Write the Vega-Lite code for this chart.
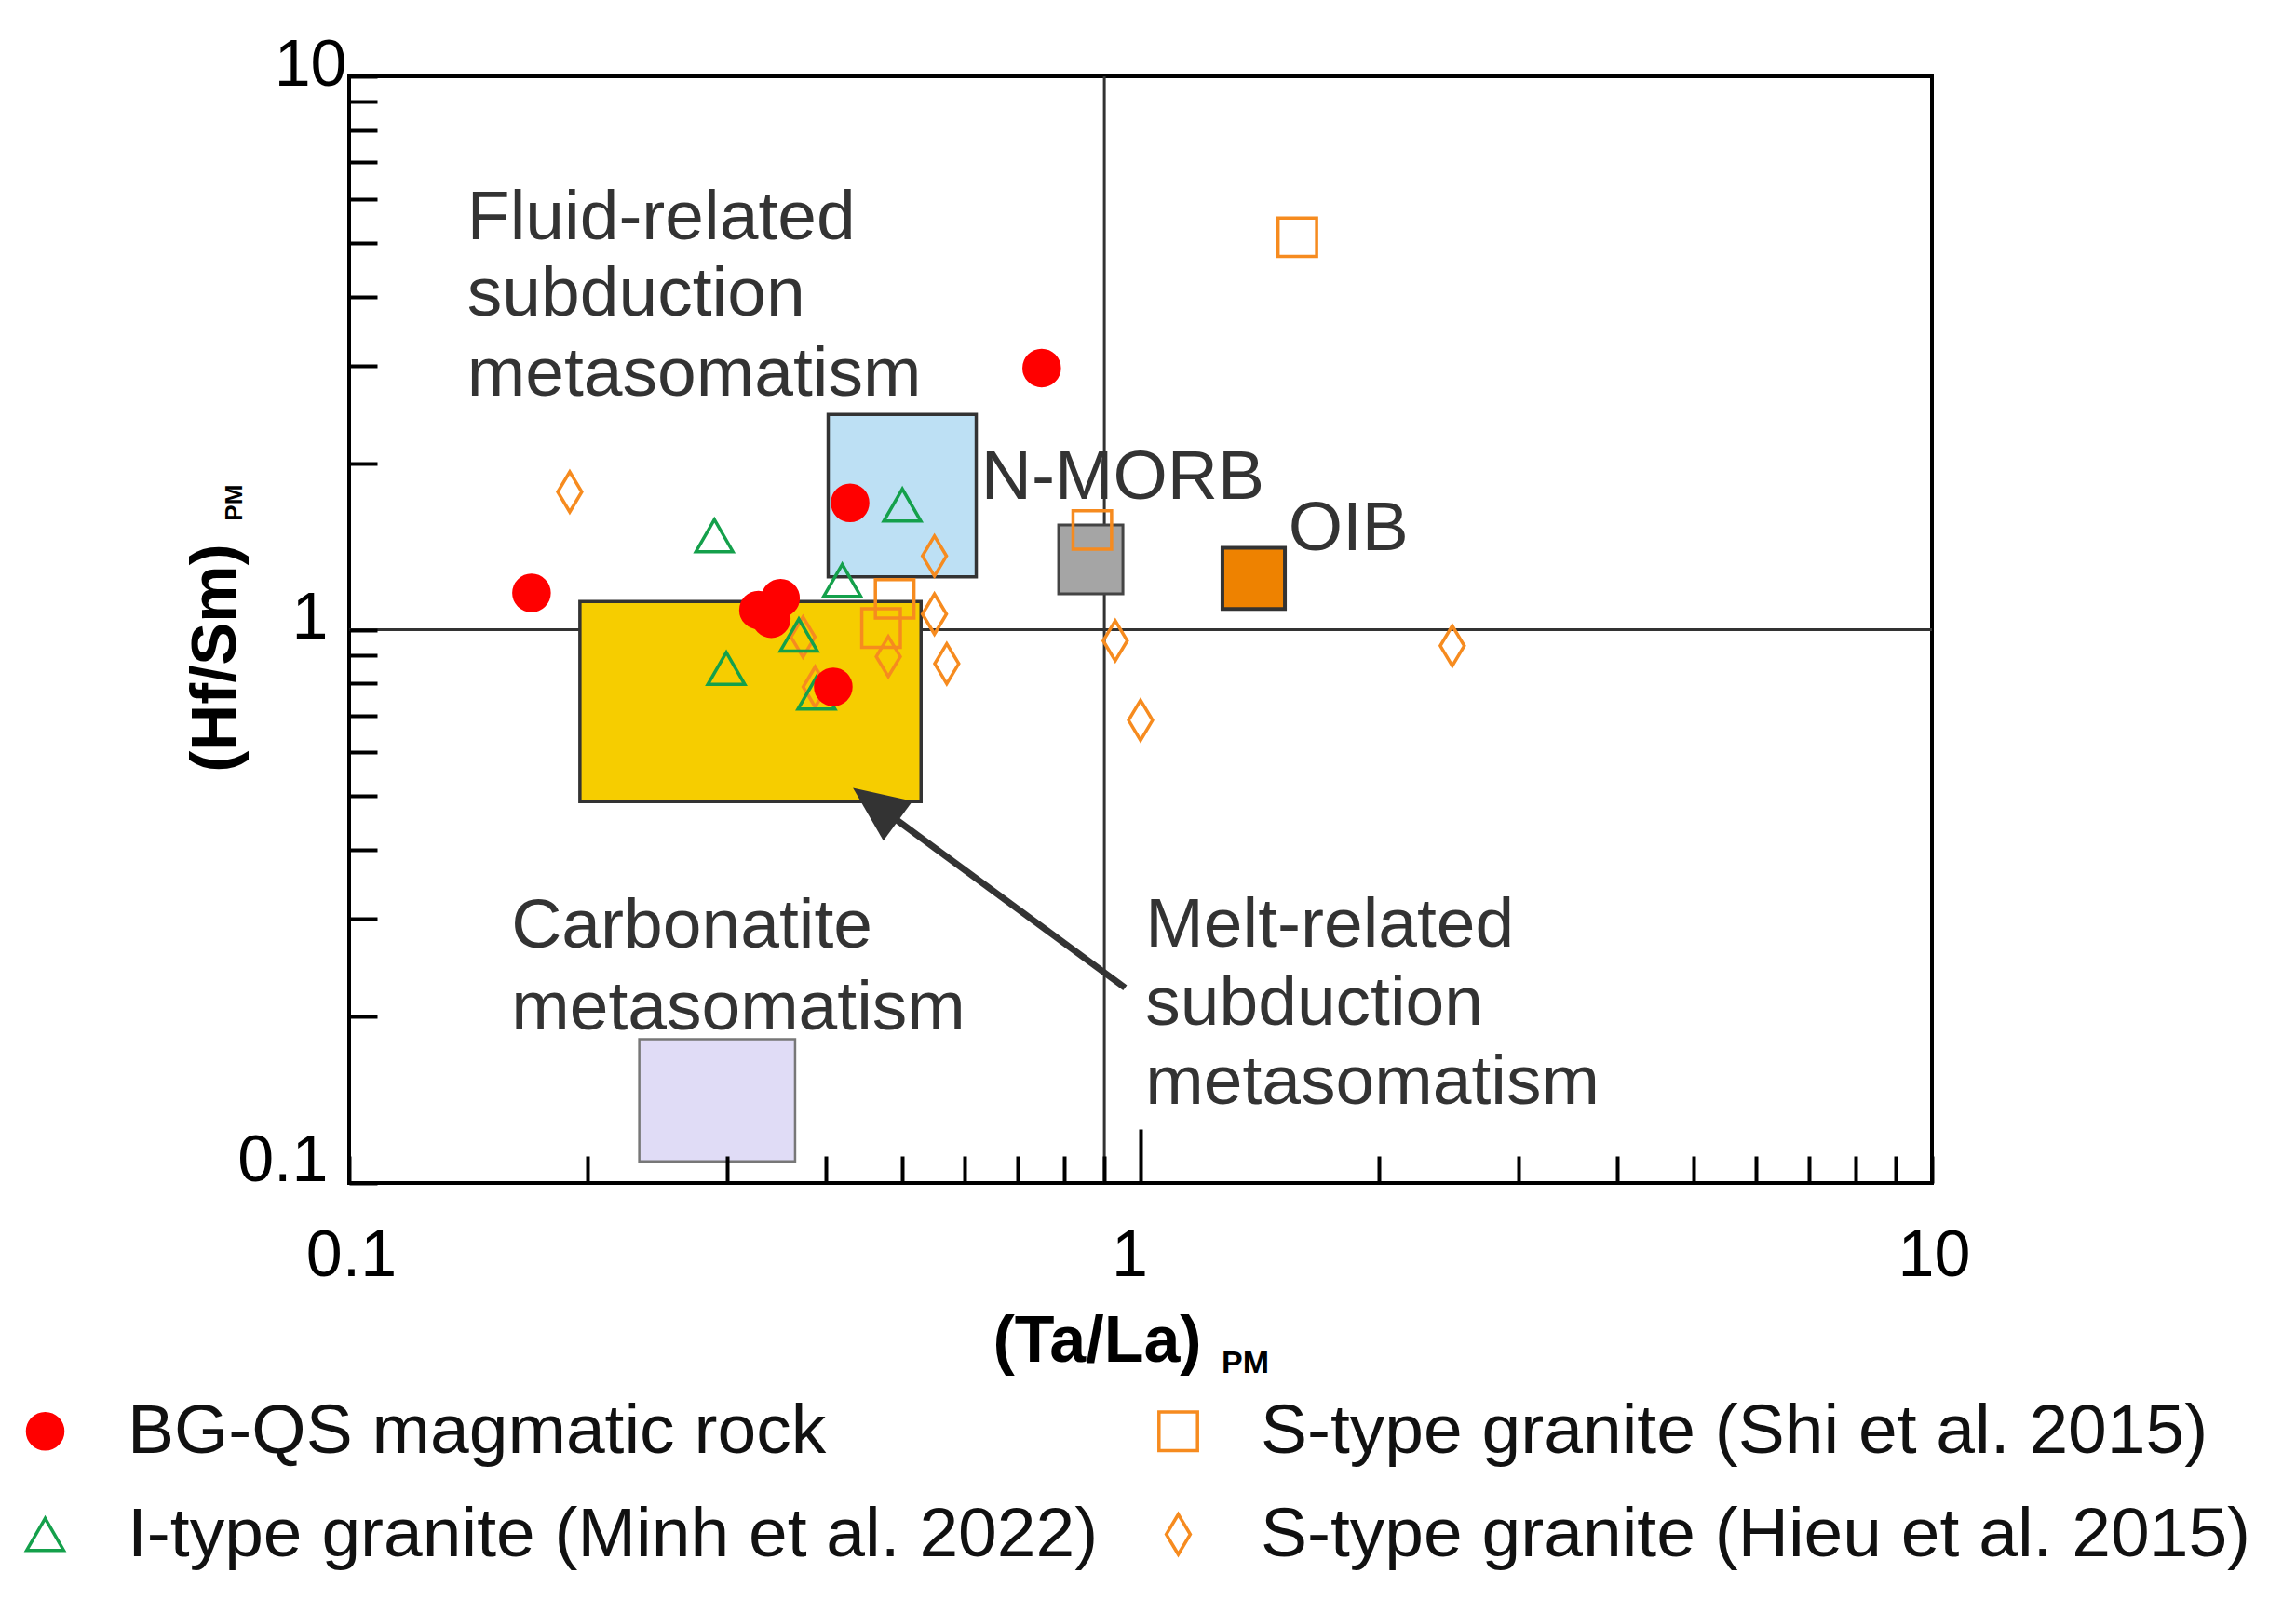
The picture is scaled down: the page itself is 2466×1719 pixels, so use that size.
{
  "$schema": "https://vega.github.io/schema/vega-lite/v6.json",
  "width": 1700,
  "height": 1189,
  "autosize": {"type": "none"},
  "padding": {"left": 375, "top": 82, "right": 391, "bottom": 448},
  "background": "#ffffff",
  "config": {
    "view": {"stroke": "#000000", "strokeWidth": 4},
    "legend": {
      "orient": "none",
      "legendX": -364,
      "legendY": 1418,
      "columns": 2,
      "labelFont": "Liberation Sans",
      "labelFontSize": 75,
      "labelColor": "#111111",
      "labelLimit": 2000,
      "labelOffset": 51,
      "columnPadding": 48,
      "rowPadding": 35,
      "symbolStrokeWidth": 3.5,
      "symbolOpacity": 1
    }
  },
  "datasets": {
    "points": [
      {"x": 0.190, "y": 1.774, "group": "S-type granite (Hieu et al. 2015)"},
      {"x": 0.549, "y": 1.359, "group": "S-type granite (Hieu et al. 2015)"},
      {"x": 0.549, "y": 1.067, "group": "S-type granite (Hieu et al. 2015)"},
      {"x": 0.569, "y": 0.868, "group": "S-type granite (Hieu et al. 2015)"},
      {"x": 0.480, "y": 0.894, "group": "S-type granite (Hieu et al. 2015)"},
      {"x": 0.929, "y": 0.955, "group": "S-type granite (Hieu et al. 2015)"},
      {"x": 1.000, "y": 0.686, "group": "S-type granite (Hieu et al. 2015)"},
      {"x": 2.477, "y": 0.935, "group": "S-type granite (Hieu et al. 2015)"},
      {"x": 0.3745, "y": 0.970, "group": "S-type granite (Hieu et al. 2015)"},
      {"x": 0.388, "y": 0.788, "group": "S-type granite (Hieu et al. 2015)"},
      {"x": 1.578, "y": 5.12, "group": "S-type granite (Shi et al. 2015)"},
      {"x": 0.869, "y": 1.514, "group": "S-type granite (Shi et al. 2015)"},
      {"x": 0.489, "y": 1.137, "group": "S-type granite (Shi et al. 2015)"},
      {"x": 0.470, "y": 1.007, "group": "S-type granite (Shi et al. 2015)"},
      {"x": 0.2894, "y": 1.479, "group": "I-type granite (Minh et al. 2022)"},
      {"x": 0.500, "y": 1.680, "group": "I-type granite (Minh et al. 2022)"},
      {"x": 0.4198, "y": 1.228, "group": "I-type granite (Minh et al. 2022)"},
      {"x": 0.370, "y": 0.978, "group": "I-type granite (Minh et al. 2022)"},
      {"x": 0.2996, "y": 0.851, "group": "I-type granite (Minh et al. 2022)"},
      {"x": 0.3895, "y": 0.768, "group": "I-type granite (Minh et al. 2022)"},
      {"x": 0.170, "y": 1.165, "group": "BG-QS magmatic rock"},
      {"x": 0.750, "y": 2.97, "group": "BG-QS magmatic rock"},
      {"x": 0.4295, "y": 1.695, "group": "BG-QS magmatic rock"},
      {"x": 0.329, "y": 1.085, "group": "BG-QS magmatic rock"},
      {"x": 0.3415, "y": 1.047, "group": "BG-QS magmatic rock"},
      {"x": 0.3508, "y": 1.140, "group": "BG-QS magmatic rock"},
      {"x": 0.409, "y": 0.788, "group": "BG-QS magmatic rock"}
    ],
    "boxes": [
      {"zone": "blue", "x": 0.403, "x2": 0.620, "y": 1.246, "y2": 2.45},
      {"zone": "yellow", "x": 0.1957, "x2": 0.528, "y": 0.489, "y2": 1.124},
      {"zone": "N-MORB", "x": 0.788, "x2": 0.950, "y": 1.161, "y2": 1.546},
      {"zone": "OIB", "x": 1.269, "x2": 1.522, "y": 1.09, "y2": 1.406},
      {"zone": "lavender", "x": 0.2326, "x2": 0.366, "y": 0.1094, "y2": 0.182}
    ],
    "labels": [
      {"label": "Fluid-related", "x": 0.141, "y": 5.08},
      {"label": "subduction", "x": 0.141, "y": 3.695},
      {"label": "metasomatism", "x": 0.141, "y": 2.652},
      {"label": "N-MORB", "x": 0.629, "y": 1.72},
      {"label": "OIB", "x": 1.537, "y": 1.394},
      {"label": "Carbonatite", "x": 0.1603, "y": 0.2665},
      {"label": "metasomatism", "x": 0.1603, "y": 0.1892},
      {"label": "Melt-related", "x": 1.0144, "y": 0.2675},
      {"label": "subduction", "x": 1.0144, "y": 0.193},
      {"label": "metasomatism", "x": 1.0144, "y": 0.1388}
    ],
    "arrow": [
      {"x": 0.956, "y": 0.2253, "x2": 0.4624, "y2": 0.4834}
    ],
    "arrowhead": [
      {"x": 0.4624, "y": 0.4834}
    ],
    "hline": [{"y": 1}],
    "vline": [{"x": 0.9}],
    "subx": [{"x": 1.266, "y": 0.1, "label": "PM"}],
    "suby": [{"x": 0.1, "y": 1.572, "label": "PM"}]
  },
  "layer": [
    {
      "data": {"name": "hline"},
      "mark": {"type": "rule", "color": "#333333", "strokeWidth": 3},
      "encoding": {
        "y": {"field": "y", "type": "quantitative",
          "scale": {"type": "log", "domain": [0.1, 10], "nice": false},
          "axis": {
            "title": "(Hf/Sm)",
            "values": [0.1, 0.2, 0.3, 0.4, 0.5, 0.6, 0.7, 0.8, 0.9, 1, 2, 3, 4, 5, 6, 7, 8, 9, 10],
            "format": "~g",
            "labelExpr": "(datum.value == 0.1 || datum.value == 1 || datum.value == 10) ? datum.label : ''",
            "domain": false, "grid": false,
            "tickSize": -30,
            "tickWidth": 4, "tickColor": "#000000",
            "labelFont": "Liberation Sans", "labelFontSize": 70, "labelColor": "#000000",
            "labelPadding": {"condition": {"test": "datum.value == 10", "value": 33}, "value": 53},
            "labelOffset": {"condition": {"test": "datum.value == 0.1", "value": -24}, "value": -12},
            "labelBaseline": "middle", "labelAlign": "right",
            "labelFlush": false, "labelOverlap": false,
            "titleFont": "Liberation Sans", "titleFontSize": 69, "titleFontWeight": "bold", "titleColor": "#000000",
            "titleX": -123, "titleY": 624.5, "titleAngle": 270, "titleBaseline": "alphabetic", "titleAlign": "center",
            "zindex": 1
          }}
      }
    },
    {
      "data": {"name": "vline"},
      "mark": {"type": "rule", "color": "#333333", "strokeWidth": 3},
      "encoding": {
        "x": {"field": "x", "type": "quantitative",
          "scale": {"type": "log", "domain": [0.1, 10], "nice": false},
          "axis": {
            "title": "(Ta/La)",
            "values": [0.1, 0.2, 0.3, 0.4, 0.5, 0.6, 0.7, 0.8, 0.9, 1, 2, 3, 4, 5, 6, 7, 8, 9, 10],
            "format": "~g",
            "labelExpr": "(datum.value == 0.1 || datum.value == 1 || datum.value == 10) ? datum.label : ''",
            "domain": false, "grid": false,
            "tickSize": {"condition": {"test": "datum.value == 1", "value": -58}, "value": -29},
            "tickWidth": 4, "tickColor": "#000000",
            "labelFont": "Liberation Sans", "labelFontSize": 70, "labelColor": "#000000",
            "labelPadding": {"condition": {"test": "datum.value == 1", "value": 102}, "value": 73},
            "labelOffset": {"condition": {"test": "datum.value == 1", "value": -12}, "value": 2},
            "labelFlush": false, "labelOverlap": false,
            "titleFont": "Liberation Sans", "titleFontSize": 70, "titleFontWeight": "bold", "titleColor": "#000000",
            "titleX": 803, "titleY": 191, "titleBaseline": "alphabetic", "titleAlign": "center",
            "zindex": 1
          }}
      }
    },
    {
      "data": {"name": "boxes"},
      "transform": [{"filter": "datum.zone == 'blue'"}],
      "mark": {"type": "rect", "fill": "#bde0f4", "stroke": "#333333", "strokeWidth": 3.5},
      "encoding": {
        "x": {"field": "x", "type": "quantitative", "scale": {"type": "log", "domain": [0.1, 10], "nice": false}},
        "x2": {"field": "x2"},
        "y": {"field": "y", "type": "quantitative", "scale": {"type": "log", "domain": [0.1, 10], "nice": false}},
        "y2": {"field": "y2"}
      }
    },
    {
      "data": {"name": "boxes"},
      "transform": [{"filter": "datum.zone == 'yellow'"}],
      "mark": {"type": "rect", "fill": "#f6cd00", "stroke": "#333333", "strokeWidth": 3.5},
      "encoding": {
        "x": {"field": "x", "type": "quantitative", "scale": {"type": "log", "domain": [0.1, 10], "nice": false}},
        "x2": {"field": "x2"},
        "y": {"field": "y", "type": "quantitative", "scale": {"type": "log", "domain": [0.1, 10], "nice": false}},
        "y2": {"field": "y2"}
      }
    },
    {
      "data": {"name": "boxes"},
      "transform": [{"filter": "datum.zone == 'N-MORB'"}],
      "mark": {"type": "rect", "fill": "#a5a5a5", "stroke": "#444444", "strokeWidth": 3},
      "encoding": {
        "x": {"field": "x", "type": "quantitative", "scale": {"type": "log", "domain": [0.1, 10], "nice": false}},
        "x2": {"field": "x2"},
        "y": {"field": "y", "type": "quantitative", "scale": {"type": "log", "domain": [0.1, 10], "nice": false}},
        "y2": {"field": "y2"}
      }
    },
    {
      "data": {"name": "boxes"},
      "transform": [{"filter": "datum.zone == 'OIB'"}],
      "mark": {"type": "rect", "fill": "#ee8200", "stroke": "#333333", "strokeWidth": 4},
      "encoding": {
        "x": {"field": "x", "type": "quantitative", "scale": {"type": "log", "domain": [0.1, 10], "nice": false}},
        "x2": {"field": "x2"},
        "y": {"field": "y", "type": "quantitative", "scale": {"type": "log", "domain": [0.1, 10], "nice": false}},
        "y2": {"field": "y2"}
      }
    },
    {
      "data": {"name": "boxes"},
      "transform": [{"filter": "datum.zone == 'lavender'"}],
      "mark": {"type": "rect", "fill": "#e0dcf6", "stroke": "#777777", "strokeWidth": 2.5},
      "encoding": {
        "x": {"field": "x", "type": "quantitative", "scale": {"type": "log", "domain": [0.1, 10], "nice": false}},
        "x2": {"field": "x2"},
        "y": {"field": "y", "type": "quantitative", "scale": {"type": "log", "domain": [0.1, 10], "nice": false}},
        "y2": {"field": "y2"}
      }
    },
    {
      "data": {"name": "arrow"},
      "mark": {"type": "rule", "color": "#333333", "strokeWidth": 7},
      "encoding": {
        "x": {"field": "x", "type": "quantitative", "scale": {"type": "log", "domain": [0.1, 10], "nice": false}},
        "x2": {"field": "x2"},
        "y": {"field": "y", "type": "quantitative", "scale": {"type": "log", "domain": [0.1, 10], "nice": false}},
        "y2": {"field": "y2"}
      }
    },
    {
      "data": {"name": "arrowhead"},
      "mark": {"type": "point", "shape": "M0,-1L0.88,1L-0.88,1Z", "filled": true, "fill": "#333333", "strokeWidth": 0, "size": 3600, "angle": 306.3, "opacity": 1},
      "encoding": {
        "x": {"field": "x", "type": "quantitative", "scale": {"type": "log", "domain": [0.1, 10], "nice": false}},
        "y": {"field": "y", "type": "quantitative", "scale": {"type": "log", "domain": [0.1, 10], "nice": false}}
      }
    },
    {
      "data": {"name": "labels"},
      "mark": {"type": "text", "align": "left", "baseline": "alphabetic", "font": "Liberation Sans", "fontSize": 75, "fill": "#333333"},
      "encoding": {
        "x": {"field": "x", "type": "quantitative", "scale": {"type": "log", "domain": [0.1, 10], "nice": false}},
        "y": {"field": "y", "type": "quantitative", "scale": {"type": "log", "domain": [0.1, 10], "nice": false}},
        "text": {"field": "label"}
      }
    },
    {
      "data": {"name": "points"},
      "mark": {"type": "point", "strokeWidth": 3.5, "opacity": 1},
      "encoding": {
        "x": {"field": "x", "type": "quantitative", "scale": {"type": "log", "domain": [0.1, 10], "nice": false}},
        "y": {"field": "y", "type": "quantitative", "scale": {"type": "log", "domain": [0.1, 10], "nice": false}},
        "shape": {"field": "group", "type": "nominal", "legend": {"title": null},
          "scale": {"domain": ["BG-QS magmatic rock", "I-type granite (Minh et al. 2022)", "S-type granite (Shi et al. 2015)", "S-type granite (Hieu et al. 2015)"],
                    "range": ["circle", "triangle-up", "square", "M0,-1L0.6,0L0,1L-0.6,0Z"]}},
        "stroke": {"field": "group", "type": "nominal", "legend": {"title": null},
          "scale": {"domain": ["BG-QS magmatic rock", "I-type granite (Minh et al. 2022)", "S-type granite (Shi et al. 2015)", "S-type granite (Hieu et al. 2015)"],
                    "range": ["#ff0000", "#14a04b", "#f68b1f", "#f68b1f"]}},
        "fill": {"field": "group", "type": "nominal", "legend": {"title": null},
          "scale": {"domain": ["BG-QS magmatic rock", "I-type granite (Minh et al. 2022)", "S-type granite (Shi et al. 2015)", "S-type granite (Hieu et al. 2015)"],
                    "range": ["#ff0000", "transparent", "transparent", "transparent"]}},
        "size": {"field": "group", "type": "nominal", "legend": {"title": null},
          "scale": {"domain": ["BG-QS magmatic rock", "I-type granite (Minh et al. 2022)", "S-type granite (Shi et al. 2015)", "S-type granite (Hieu et al. 2015)"],
                    "range": [1444, 1850, 1369, 2700]}}
      }
    },
    {
      "data": {"name": "subx"},
      "mark": {"type": "text", "align": "left", "baseline": "alphabetic", "font": "Liberation Sans", "fontSize": 34, "fontWeight": "bold", "fill": "#000000", "dy": 204},
      "encoding": {
        "x": {"field": "x", "type": "quantitative", "scale": {"type": "log", "domain": [0.1, 10], "nice": false}},
        "y": {"field": "y", "type": "quantitative", "scale": {"type": "log", "domain": [0.1, 10], "nice": false}},
        "text": {"field": "label"}
      }
    },
    {
      "data": {"name": "suby"},
      "mark": {"type": "text", "align": "left", "baseline": "alphabetic", "font": "Liberation Sans", "fontSize": 26, "fontWeight": "bold", "fill": "#000000", "angle": 270, "dy": -115},
      "encoding": {
        "x": {"field": "x", "type": "quantitative", "scale": {"type": "log", "domain": [0.1, 10], "nice": false}},
        "y": {"field": "y", "type": "quantitative", "scale": {"type": "log", "domain": [0.1, 10], "nice": false}},
        "text": {"field": "label"}
      }
    }
  ]
}
